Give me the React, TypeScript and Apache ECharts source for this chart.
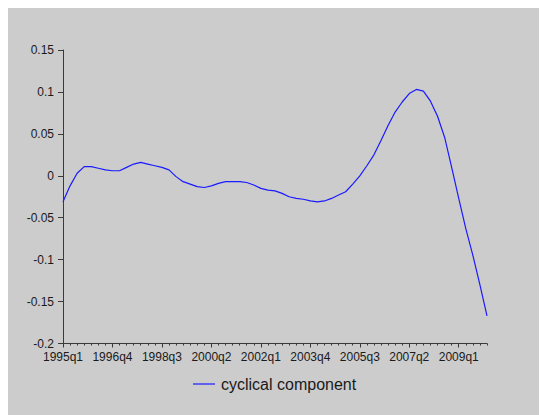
import React, { useEffect, useRef } from "react";
import * as echarts from "echarts";

// Quarterly categories 1995q1 .. 2010q1
const startYear = 1995;
const quarterCount = 61;
const quarters: string[] = [];
for (let i = 0; i < quarterCount; i++) {
  quarters.push(`${startYear + Math.floor(i / 4)}q${(i % 4) + 1}`);
}

const cyclical: number[] = [
  -0.031, -0.012, 0.003, 0.011, 0.011, 0.009, 0.007, 0.006, 0.006, 0.010,
  0.014, 0.016, 0.014, 0.012, 0.010, 0.007, -0.001, -0.007, -0.010, -0.013,
  -0.014, -0.012, -0.009, -0.007, -0.007, -0.007, -0.008, -0.011, -0.015, -0.017,
  -0.018, -0.021, -0.025, -0.027, -0.028, -0.030, -0.031, -0.030, -0.027, -0.023,
  -0.019, -0.010, 0.000, 0.012, 0.025, 0.042, 0.060, 0.076, 0.088, 0.098,
  0.103, 0.101, 0.089, 0.071, 0.046, 0.010, -0.027, -0.063, -0.095, -0.130,
  -0.167,
];

const seriesName = "cyclical component";

export default function App() {
  const ref = useRef<HTMLDivElement>(null);
  useEffect(() => {
    if (!ref.current) return;
    const chart = echarts.init(ref.current, undefined, { renderer: "svg" });
    const axisColor = "#3a3a3a";
    const font = "'Liberation Sans', Arial, sans-serif";
    chart.setOption({
      animation: false,
      backgroundColor: "#cccccc",
      grid: { left: 55, right: 60, top: 42, bottom: 71.5, containLabel: false },
      legend: {
        data: [seriesName],
        left: 180,
        top: 363,
        icon: "rect",
        itemWidth: 22,
        itemHeight: 1.2,
        textStyle: { fontFamily: font, fontSize: 16, color: "#1a1a1a", padding: [0, 0, 0, 1] },
      },
      xAxis: [
        {
          type: "category",
          data: quarters,
          boundaryGap: false,
          axisLine: { show: true, onZero: false, lineStyle: { color: axisColor, width: 1 } },
          axisTick: { show: true, interval: 6, length: 4, lineStyle: { color: axisColor } },
          axisLabel: {
            interval: 6,
            margin: 7,
            fontFamily: font,
            fontSize: 12,
            color: "#1a1a1a",
          },
          splitLine: { show: false },
        },
        {
          type: "category",
          data: quarters,
          boundaryGap: false,
          position: "bottom",
          axisLine: { show: false, onZero: false },
          axisTick: { show: true, interval: 0, length: 2, lineStyle: { color: axisColor } },
          axisLabel: { show: false },
          splitLine: { show: false },
        },
      ],
      yAxis: {
        type: "value",
        min: -0.2,
        max: 0.15,
        interval: 0.05,
        axisLine: { show: true, onZero: false, lineStyle: { color: axisColor, width: 1 } },
        axisTick: { show: true, length: 5, lineStyle: { color: axisColor } },
        axisLabel: {
          margin: 9,
          fontFamily: font,
          fontSize: 12,
          color: "#1a1a1a",
        },
        splitLine: { show: false },
      },
      series: [
        {
          name: seriesName,
          type: "line",
          xAxisIndex: 0,
          data: cyclical,
          symbol: "none",
          smooth: false,
          lineStyle: { color: "#1a1aff", width: 1.2 },
          itemStyle: { color: "#1a1aff" },
        },
      ],
    });
    return () => chart.dispose();
  }, []);
  return <div ref={ref} style={{ width: 539, height: 407 }} />;
}
